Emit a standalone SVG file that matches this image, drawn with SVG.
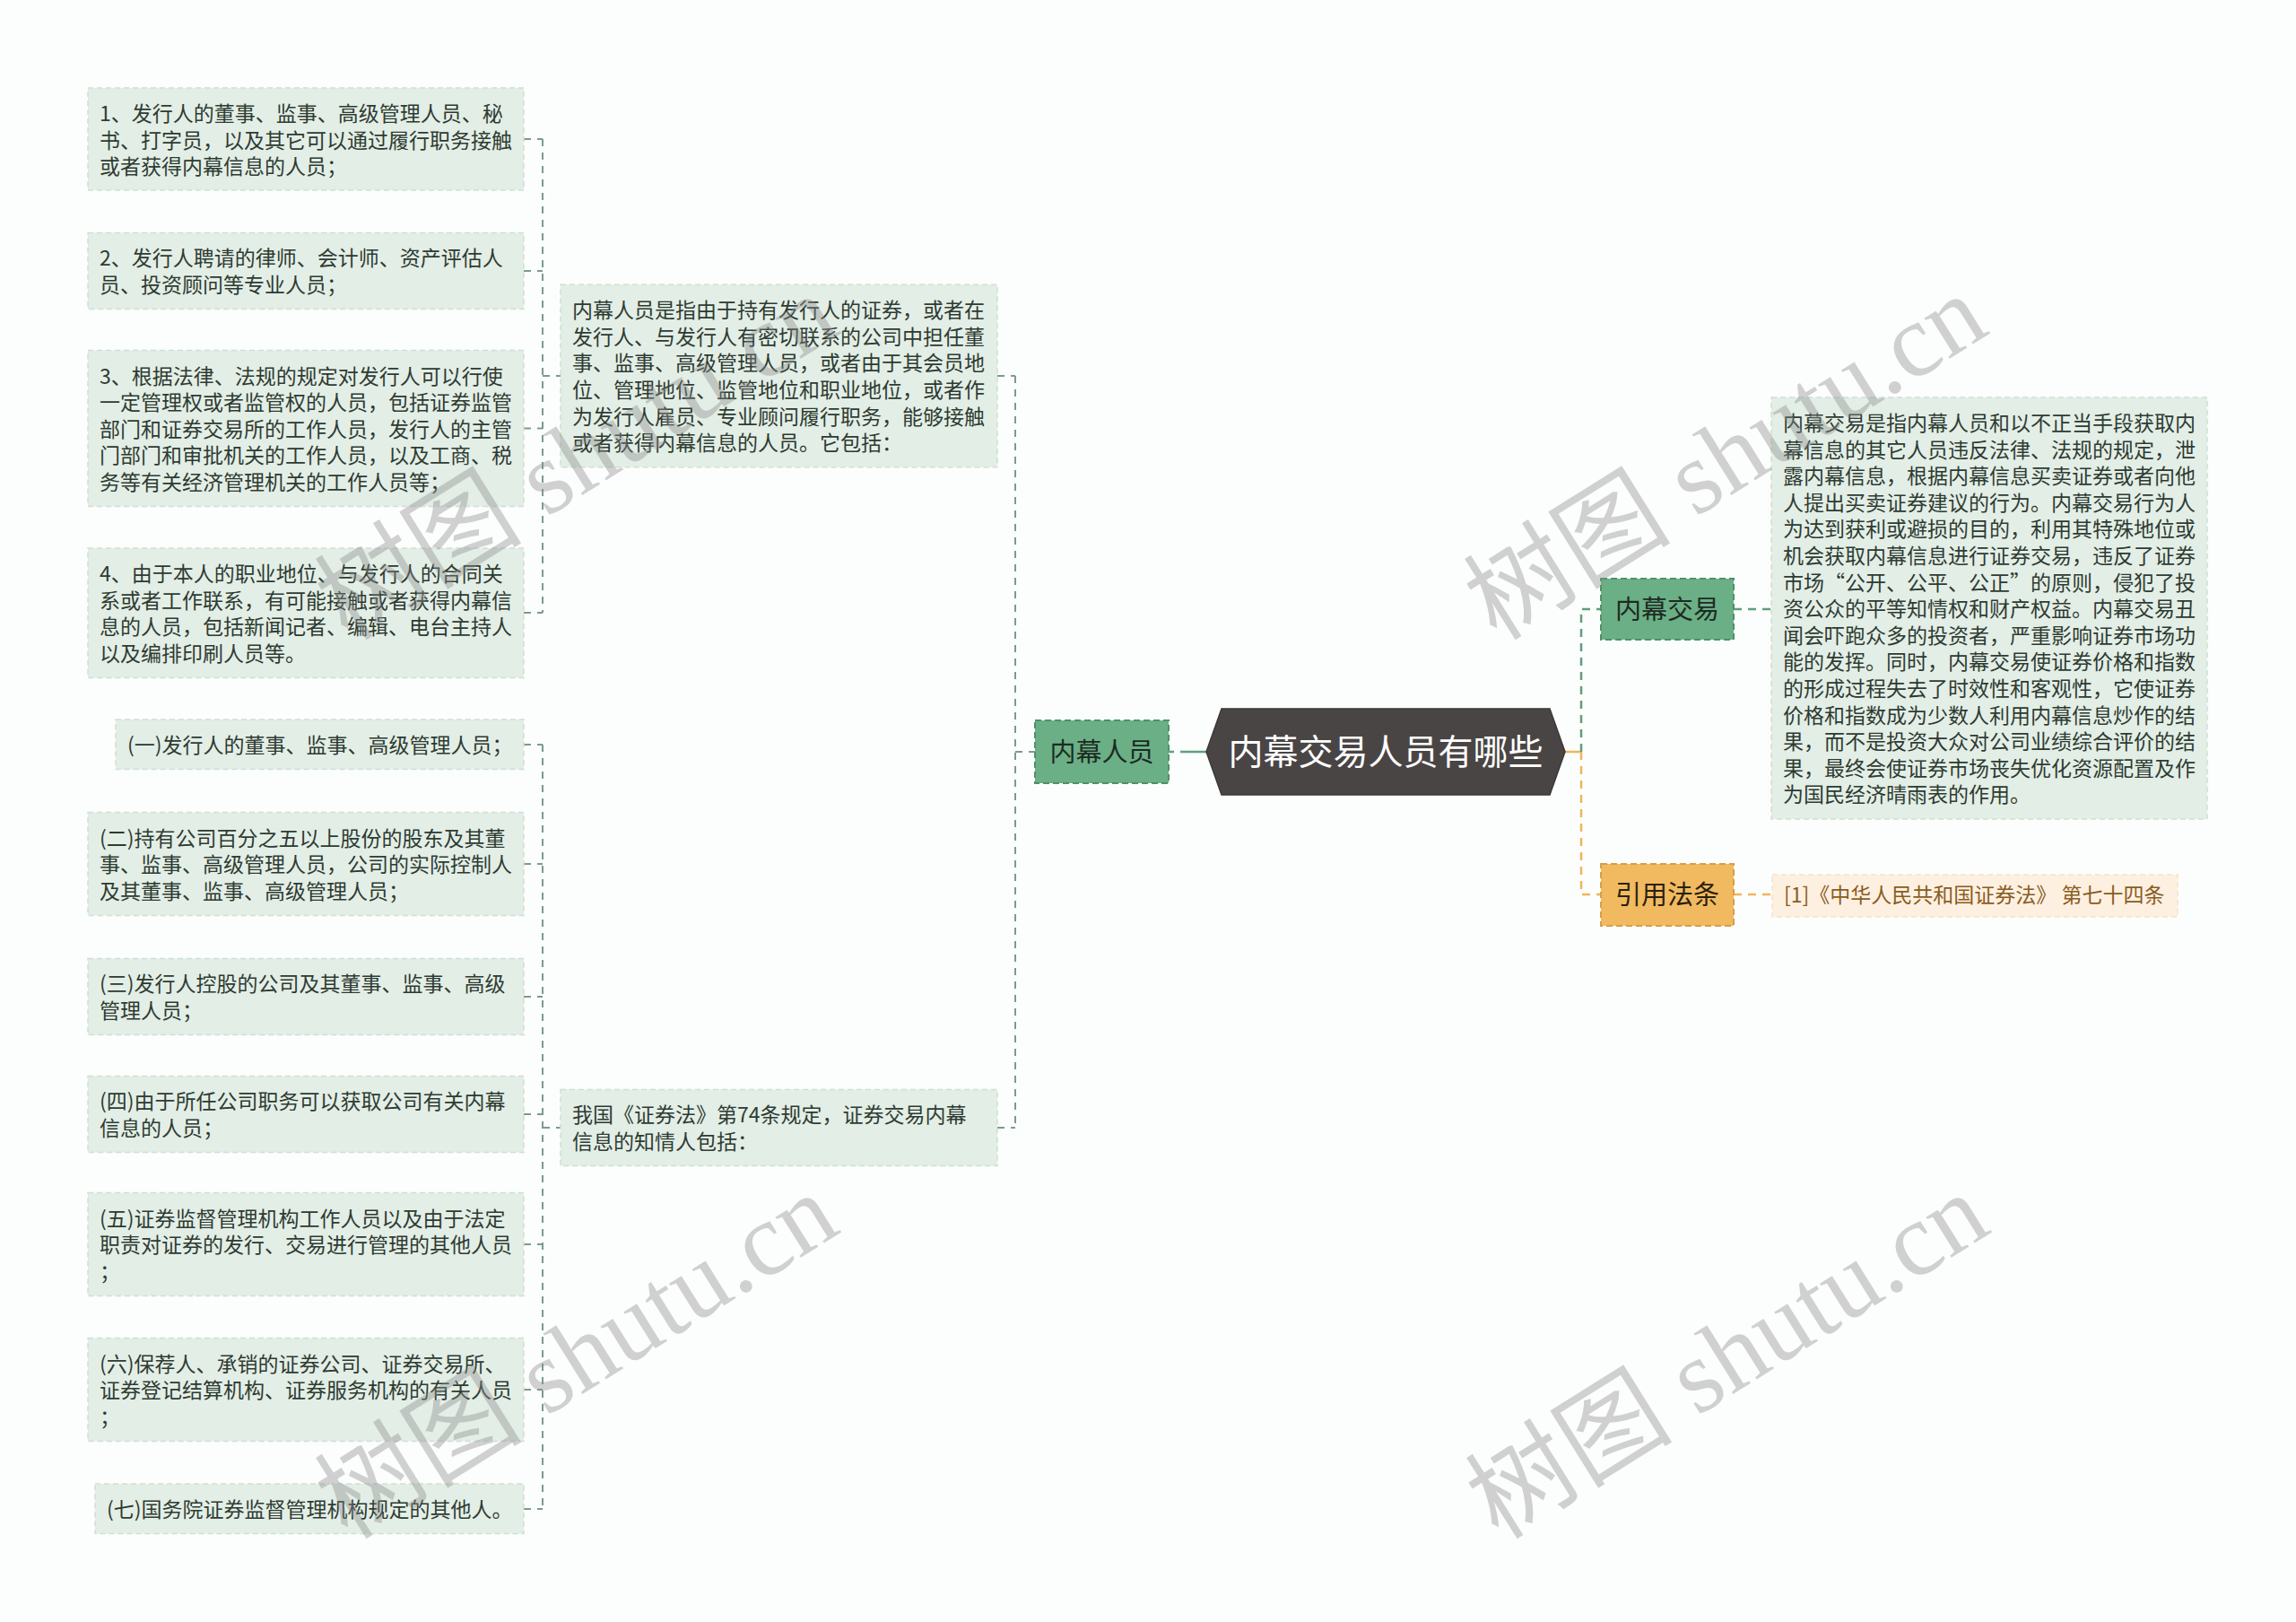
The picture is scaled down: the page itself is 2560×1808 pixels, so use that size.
<svg xmlns="http://www.w3.org/2000/svg" width="2560" height="1808" viewBox="0 0 2560 1808">
<style>
text{font-family:"Noto Sans CJK SC","Noto Sans",sans-serif;}
.leaf rect{fill:#e3eee6;stroke:#cfe0d3;stroke-width:1.5;stroke-dasharray:6 4;}
.leaf text{font-size:23px;fill:#2e3b32;}
.node rect{fill:#6baf86;stroke:#4f9168;stroke-width:2;stroke-dasharray:7 4;}
.node text{font-size:29px;fill:#1d2b22;text-anchor:middle;}
.onode rect{fill:#f1ba60;stroke:#d79f45;stroke-width:2;stroke-dasharray:7 4;}
.onode text{font-size:29px;fill:#2a2010;text-anchor:middle;}
.ref rect{fill:#fdf0e1;stroke:#f6e2c8;stroke-width:1.5;stroke-dasharray:6 4;}
.ref text{font-size:23px;fill:#8a5c1e;}
.cl{fill:none;stroke:#7a9c8a;stroke-width:2;stroke-dasharray:8 7;}
.cg{fill:none;stroke:#5f9f7c;stroke-width:2.5;stroke-dasharray:9 7;}
.co{fill:none;stroke:#efb65c;stroke-width:2.5;stroke-dasharray:9 7;}
.wm{font-family:"Liberation Serif","Noto Sans CJK SC",serif;font-size:116px;fill:#8a8a8a;opacity:0.38;text-anchor:middle;dominant-baseline:central;}
</style>
<rect x="0" y="0" width="2560" height="1808" fill="#fcfdfd"/>

<g id="connectors">
  <path class="cl" d="M584,155 H605 M584,302 H605 M584,477.5 H605 M584,683 H605 M605,155 V683 M605,419 H625"/>
  <path class="cl" d="M584,830 H605 M584,963 H605 M584,1111 H605 M584,1242 H605 M584,1387 H605 M584,1549 H605 M584,1682 H605 M605,830 V1682 M605,1257 H625"/>
  <path class="cl" d="M1112,419 H1132 M1112,1257 H1132 M1132,419 V1257 M1132,838 H1154"/>
  <path d="M1303,838 H1309 M1316,838 H1345" fill="none" stroke="#5f9f7c" stroke-width="2.5"/>
  <path d="M1745,838 H1763" fill="none" stroke="#efb65c" stroke-width="2.5"/>
  <path class="cg" d="M1763,838 V679 H1785"/>
  <path class="co" d="M1763,838 V997 H1785"/>
  <path class="cg" d="M1933,679 H1975"/>
  <path class="co" d="M1933,997 H1976"/>
</g>

<g id="n1" class="leaf"><rect x="98" y="98" width="486" height="114"/>
<text x="111" y="135"><tspan x="111">1、发行人的董事、监事、高级管理人员、秘</tspan><tspan x="111" dy="29.6">书、打字员，以及其它可以通过履行职务接触</tspan><tspan x="111" dy="29.6">或者获得内幕信息的人员；</tspan></text></g>

<g id="n2" class="leaf"><rect x="98" y="259.4" width="486" height="85.2"/>
<text x="111" y="296.4"><tspan x="111">2、发行人聘请的律师、会计师、资产评估人</tspan><tspan x="111" dy="29.6">员、投资顾问等专业人员；</tspan></text></g>

<g id="n3" class="leaf"><rect x="98" y="390.5" width="486" height="174"/>
<text x="111" y="427.5"><tspan x="111">3、根据法律、法规的规定对发行人可以行使</tspan><tspan x="111" dy="29.6">一定管理权或者监管权的人员，包括证券监管</tspan><tspan x="111" dy="29.6">部门和证券交易所的工作人员，发行人的主管</tspan><tspan x="111" dy="29.6">门部门和审批机关的工作人员，以及工商、税</tspan><tspan x="111" dy="29.6">务等有关经济管理机关的工作人员等；</tspan></text></g>

<g id="n4" class="leaf"><rect x="98" y="611" width="486" height="144.4"/>
<text x="111" y="648"><tspan x="111">4、由于本人的职业地位、与发行人的合同关</tspan><tspan x="111" dy="29.6">系或者工作联系，有可能接触或者获得内幕信</tspan><tspan x="111" dy="29.6">息的人员，包括新闻记者、编辑、电台主持人</tspan><tspan x="111" dy="29.6">以及编排印刷人员等。</tspan></text></g>

<g id="n5" class="leaf"><rect x="129" y="802" width="455" height="55.6"/>
<text x="142" y="839">(一)发行人的董事、监事、高级管理人员；</text></g>

<g id="n6" class="leaf"><rect x="98" y="905.6" width="486" height="114.8"/>
<text x="111" y="942.6"><tspan x="111">(二)持有公司百分之五以上股份的股东及其董</tspan><tspan x="111" dy="29.6">事、监事、高级管理人员，公司的实际控制人</tspan><tspan x="111" dy="29.6">及其董事、监事、高级管理人员；</tspan></text></g>

<g id="n7" class="leaf"><rect x="98" y="1068.4" width="486" height="85.2"/>
<text x="111" y="1105.4"><tspan x="111">(三)发行人控股的公司及其董事、监事、高级</tspan><tspan x="111" dy="29.6">管理人员；</tspan></text></g>

<g id="n8" class="leaf"><rect x="98" y="1199.4" width="486" height="85.2"/>
<text x="111" y="1236.4"><tspan x="111">(四)由于所任公司职务可以获取公司有关内幕</tspan><tspan x="111" dy="29.6">信息的人员；</tspan></text></g>

<g id="n9" class="leaf"><rect x="98" y="1329.6" width="486" height="114.8"/>
<text x="111" y="1366.6"><tspan x="111">(五)证券监督管理机构工作人员以及由于法定</tspan><tspan x="111" dy="29.6">职责对证券的发行、交易进行管理的其他人员</tspan><tspan x="111" dy="29.6">；</tspan></text></g>

<g id="n10" class="leaf"><rect x="98" y="1491.6" width="486" height="114.8"/>
<text x="111" y="1528.6"><tspan x="111">(六)保荐人、承销的证券公司、证券交易所、</tspan><tspan x="111" dy="29.6">证券登记结算机构、证券服务机构的有关人员</tspan><tspan x="111" dy="29.6">；</tspan></text></g>

<g id="n11" class="leaf"><rect x="106" y="1654" width="478" height="55.6"/>
<text x="119" y="1691">(七)国务院证券监督管理机构规定的其他人。</text></g>

<g id="m1" class="leaf"><rect x="625" y="317.2" width="487" height="203.6"/>
<text x="638" y="354.2"><tspan x="638">内幕人员是指由于持有发行人的证券，或者在</tspan><tspan x="638" dy="29.6">发行人、与发行人有密切联系的公司中担任董</tspan><tspan x="638" dy="29.6">事、监事、高级管理人员，或者由于其会员地</tspan><tspan x="638" dy="29.6">位、管理地位、监管地位和职业地位，或者作</tspan><tspan x="638" dy="29.6">为发行人雇员、专业顾问履行职务，能够接触</tspan><tspan x="638" dy="29.6">或者获得内幕信息的人员。它包括：</tspan></text></g>

<g id="m2" class="leaf"><rect x="625" y="1214.4" width="487" height="85.2"/>
<text x="638" y="1251.4"><tspan x="638">我国《证券法》第74条规定，证券交易内幕</tspan><tspan x="638" dy="29.6">信息的知情人包括：</tspan></text></g>

<g id="b1" class="node"><rect x="1154" y="803" width="149" height="70"/>
<text x="1228.5" y="848.5">内幕人员</text></g>

<g id="root">
<polygon points="1345,838 1362,790 1728,790 1745,838 1728,886 1362,886" fill="#4a4545" stroke="#3d3939" stroke-width="1.5"/>
<text x="1545" y="852" font-size="39" fill="#ffffff" text-anchor="middle">内幕交易人员有哪些</text></g>

<g id="b2" class="node"><rect x="1785" y="645" width="148" height="68"/>
<text x="1859" y="689.5">内幕交易</text></g>

<g id="b3" class="onode"><rect x="1785" y="963" width="148" height="69"/>
<text x="1859" y="1007.5">引用法条</text></g>

<g id="r1" class="leaf"><rect x="1975" y="443" width="486" height="470"/>
<text x="1988" y="480"><tspan x="1988">内幕交易是指内幕人员和以不正当手段获取内</tspan><tspan x="1988" dy="29.6">幕信息的其它人员违反法律、法规的规定，泄</tspan><tspan x="1988" dy="29.6">露内幕信息，根据内幕信息买卖证券或者向他</tspan><tspan x="1988" dy="29.6">人提出买卖证券建议的行为。内幕交易行为人</tspan><tspan x="1988" dy="29.6">为达到获利或避损的目的，利用其特殊地位或</tspan><tspan x="1988" dy="29.6">机会获取内幕信息进行证券交易，违反了证券</tspan><tspan x="1988" dy="29.6">市场“公开、公平、公正”的原则，侵犯了投</tspan><tspan x="1988" dy="29.6">资公众的平等知情权和财产权益。内幕交易丑</tspan><tspan x="1988" dy="29.6">闻会吓跑众多的投资者，严重影响证券市场功</tspan><tspan x="1988" dy="29.6">能的发挥。同时，内幕交易使证券价格和指数</tspan><tspan x="1988" dy="29.6">的形成过程失去了时效性和客观性，它使证券</tspan><tspan x="1988" dy="29.6">价格和指数成为少数人利用内幕信息炒作的结</tspan><tspan x="1988" dy="29.6">果，而不是投资大众对公司业绩综合评价的结</tspan><tspan x="1988" dy="29.6">果，最终会使证券市场丧失优化资源配置及作</tspan><tspan x="1988" dy="29.6">为国民经济晴雨表的作用。</tspan></text></g>

<g id="r2" class="ref"><rect x="1976" y="975" width="452" height="47"/>
<text x="1989" y="1006">[1]《中华人民共和国证券法》 第七十四条</text></g>

<g id="watermarks">
<text class="wm" transform="translate(643,510) rotate(-32)">树图 shutu.cn</text>
<text class="wm" transform="translate(643,1512) rotate(-32)">树图 shutu.cn</text>
<text class="wm" transform="translate(1924,510) rotate(-32)">树图 shutu.cn</text>
<text class="wm" transform="translate(1926,1512) rotate(-32)">树图 shutu.cn</text>
</g>
</svg>
